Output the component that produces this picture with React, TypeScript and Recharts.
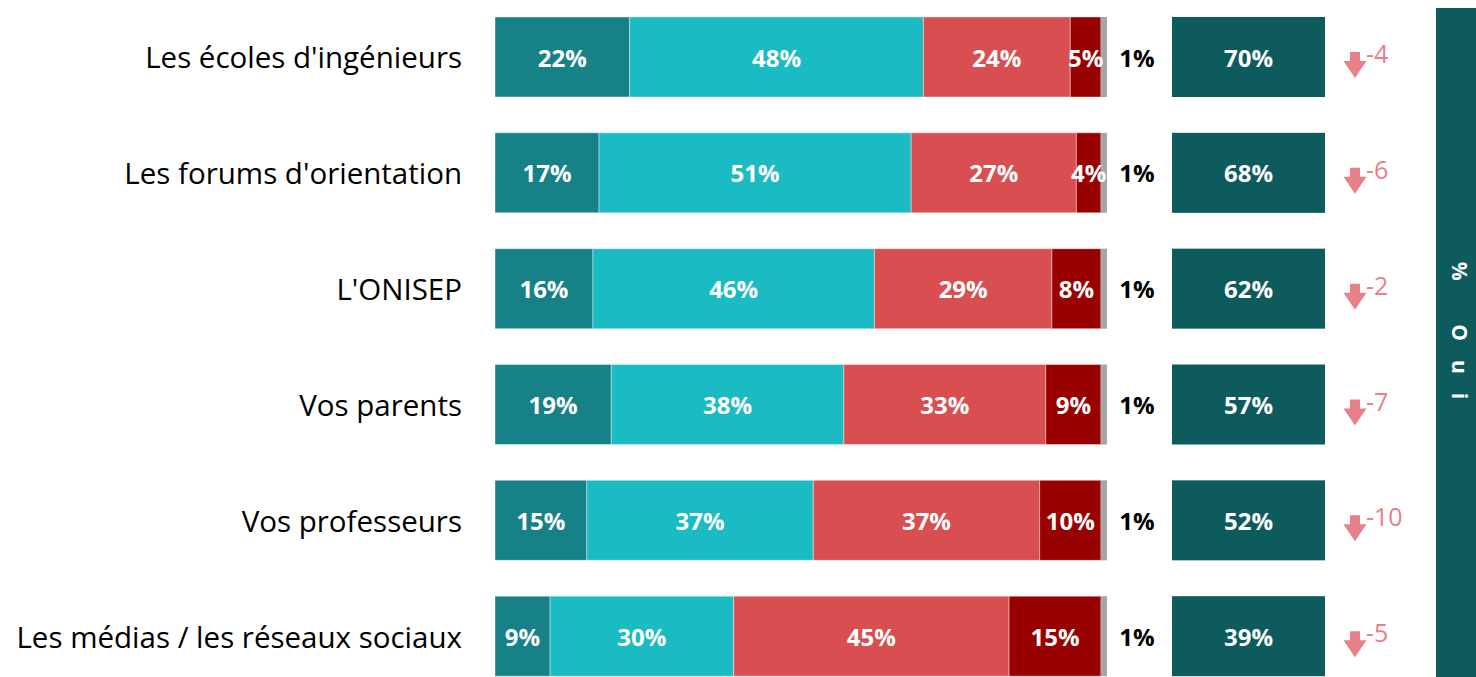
import React from 'react';
import { BarChart, Bar, XAxis, YAxis, LabelList, Customized } from 'recharts';

const categories = [
  "Les écoles d'ingénieurs",
  "Les forums d'orientation",
  "L'ONISEP",
  'Vos parents',
  'Vos professeurs',
  'Les médias / les réseaux sociaux',
];
const toutAFait = [22, 17, 16, 19, 15, 9];
const plutot = [48, 51, 46, 38, 37, 30];
const plutotPas = [24, 27, 29, 33, 37, 45];
const pasDuTout = [5, 4, 8, 9, 10, 15];
const nsp = [1, 1, 1, 1, 1, 1];
const totalOui = [70, 68, 62, 57, 52, 39];
const evolution = [-4, -6, -2, -7, -10, -5];
const bannerLabel = '% Oui';

const data = categories.map((c, i) => ({
  cat: c,
  a: toutAFait[i],
  b: plutot[i],
  c: plutotPas[i],
  d: pasDuTout[i],
  e: nsp[i],
  total: totalOui[i],
  evo: evolution[i],
}));

const FONT = "'Open Sans', sans-serif";
const C1 = '#168187';
const C2 = '#1BBBC4';
const C3 = '#D94F51';
const C4 = '#990000';
const C5 = '#A6A6A6';
const DARK = '#0D5B5D';
const PINK = '#E8808A';
const LBL = 24;

const segLabel = (props: any) => {
  const { x, y, width, height, value } = props;
  if (value == null) return null;
  return (
    <text
      x={x + width / 2}
      y={y + height / 2}
      textAnchor="middle"
      dominantBaseline="central"
      fill="#fff"
      fontFamily={FONT}
      fontWeight={700}
      fontSize={LBL}
    >
      {value}%
    </text>
  );
};

const LastShape = (props: any) => {
  const { x, y, width, height, payload } = props;
  const xe = x + width;
  const cy = y + height / 2;
  const bx = xe + 65;
  const bw = 153;
  const ax = xe + 248;
  return (
    <g>
      <rect x={x} y={y} width={width} height={height} fill={C5} />
      <text x={xe + 30} y={cy} textAnchor="middle" dominantBaseline="central" fill="#000" fontFamily={FONT} fontWeight={700} fontSize={LBL}>
        {payload.e}%
      </text>
      <rect x={bx} y={y} width={bw} height={height} fill={DARK} />
      <text x={bx + bw / 2} y={cy} textAnchor="middle" dominantBaseline="central" fill="#fff" fontFamily={FONT} fontWeight={700} fontSize={LBL}>
        {payload.total}%
      </text>
      <path
        d={`M ${ax - 5} ${cy - 5} L ${ax + 5} ${cy - 5} L ${ax + 5} ${cy + 4} L ${ax + 11.5} ${cy + 4} L ${ax} ${cy + 21} L ${ax - 11.5} ${cy + 4} L ${ax - 5} ${cy + 4} Z`}
        fill={PINK}
      />
      <text x={ax + 11} y={cy + 6} textAnchor="start" fill={PINK} fontFamily={FONT} fontSize={25}>
        {payload.evo}
      </text>
    </g>
  );
};

const YTick = (props: any) => {
  const { x, y, payload } = props;
  return (
    <text x={x} y={y} textAnchor="end" dominantBaseline="central" fill="#000" fontFamily={FONT} fontSize={29.5}>
      {payload.value}
    </text>
  );
};

const Banner = () => (
  <g>
    <rect x={1436} y={8} width={40} height={700} fill={DARK} />
    <text
      x={1460}
      y={340}
      textAnchor="middle"
      dominantBaseline="central"
      fill="#fff"
      fontFamily={FONT}
      fontWeight={700}
      fontSize={21}
      letterSpacing={19}
      transform="rotate(90 1460 340)"
    >
      {bannerLabel}
    </text>
  </g>
);

export default function App() {
  return (
    <div style={{ position: 'fixed', left: 0, top: 0, width: 1476, height: 677, overflow: 'hidden', background: '#fff' }}>
      <BarChart
        width={1476}
        height={695}
        data={data}
        layout="vertical"
        margin={{ top: -1, right: 369, bottom: 1, left: 0 }}
        barSize={80}
      >
        <XAxis type="number" domain={[0, 100]} hide />
        <YAxis
          type="category"
          dataKey="cat"
          width={495}
          axisLine={false}
          tickLine={false}
          tickSize={0}
          tickMargin={33}
          tick={<YTick />}
          interval={0}
        />
        <Bar dataKey="a" stackId="s" fill={C1} stroke="rgba(255,255,255,0.4)" strokeWidth={1} isAnimationActive={false}>
          <LabelList dataKey="a" content={segLabel} />
        </Bar>
        <Bar dataKey="b" stackId="s" fill={C2} stroke="rgba(255,255,255,0.4)" strokeWidth={1} isAnimationActive={false}>
          <LabelList dataKey="b" content={segLabel} />
        </Bar>
        <Bar dataKey="c" stackId="s" fill={C3} stroke="rgba(255,255,255,0.4)" strokeWidth={1} isAnimationActive={false}>
          <LabelList dataKey="c" content={segLabel} />
        </Bar>
        <Bar dataKey="d" stackId="s" fill={C4} stroke="rgba(255,255,255,0.4)" strokeWidth={1} isAnimationActive={false}>
          <LabelList dataKey="d" content={segLabel} />
        </Bar>
        <Bar dataKey="e" stackId="s" fill={C5} isAnimationActive={false} shape={<LastShape />} />
        <Customized component={Banner} />
      </BarChart>
    </div>
  );
}
